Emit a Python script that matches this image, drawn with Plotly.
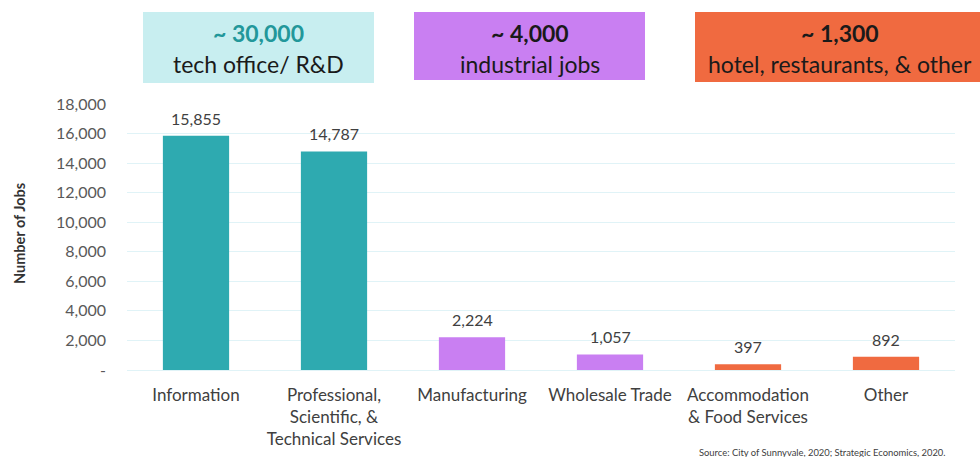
import plotly.graph_objects as go

# Jobs by industry
categories = [
    "Information",
    "Professional,<br>Scientific, &<br>Technical Services",
    "Manufacturing",
    "Wholesale Trade",
    "Accommodation<br>& Food Services",
    "Other",
]
jobs = [15855, 14787, 2224, 1057, 397, 892]
bar_colors = ["#2eaab0", "#2eaab0", "#c97ff2", "#c97ff2", "#f06a40", "#f06a40"]

y_tick_values = [0, 2000, 4000, 6000, 8000, 10000, 12000, 14000, 16000, 18000]
y_tick_labels = ["-", "2,000", "4,000", "6,000", "8,000", "10,000",
                 "12,000", "14,000", "16,000", "18,000"]

# Group summary boxes: headline, caption, fill, headline colour
group_headlines = ["~ 30,000", "~ 4,000", "~ 1,300"]
group_captions = ["tech office/ R&D", "industrial jobs", "hotel, restaurants, & other"]
group_fills = ["#c8eef0", "#c97ff2", "#f06a40"]
group_headline_colors = ["#22979a", "#1a1a1a", "#1a1a1a"]

source_note = "Source: City of Sunnyvale, 2020; Strategic Economics, 2020."

FONT = "Lato, 'Open Sans', sans-serif"
W, H = 980, 457
L, R, T, B = 127, 25, 104, 87
PW, PH = W - L - R, H - T - B


def px_x(px):
    return (px - L) / PW


def px_y(py):
    return (H - B - py) / PH


fig = go.Figure()
fig.add_trace(go.Bar(
    x=categories,
    y=jobs,
    marker=dict(color=bar_colors, line=dict(width=0)),
    hoverinfo="skip",
))

annotations = []
# value labels above each bar
for cat, val in zip(categories, jobs):
    annotations.append(dict(
        x=cat, y=val, xref="x", yref="y",
        text=f"{val:,}", showarrow=False,
        yanchor="bottom", yshift=6,
        font=dict(family=FONT, size=16, color="#404040"),
    ))

# summary boxes across the top (the last one runs off the right edge)
box_extents = [(143, 374, 12, 83), (414, 645, 12, 80), (695, 1000, 12, 82)]
text_centers = [258.5, 529.5, 840]
shapes = []
for (x0, x1, y0, y1), tcx, fill, head, cap, hcol in zip(
        box_extents, text_centers, group_fills, group_headlines,
        group_captions, group_headline_colors):
    shapes.append(dict(
        type="rect", xref="paper", yref="paper",
        x0=px_x(x0), x1=px_x(x1), y0=px_y(y1), y1=px_y(y0),
        fillcolor=fill, line=dict(width=0), layer="above",
    ))
    cx = px_x(tcx)
    annotations.append(dict(
        x=cx, y=px_y(33), xref="paper", yref="paper",
        text=f"<b>{head}</b>", showarrow=False,
        xanchor="center", yanchor="middle",
        font=dict(family=FONT, size=23, color=hcol),
    ))
    annotations.append(dict(
        x=cx, y=px_y(64), xref="paper", yref="paper",
        text=cap, showarrow=False,
        xanchor="center", yanchor="middle",
        font=dict(family=FONT, size=23, color="#1a1a1a"),
    ))

# axis title
annotations.append(dict(
    x=px_x(19), y=px_y(234), xref="paper", yref="paper",
    text="<b>Number of Jobs</b>", textangle=-90, showarrow=False,
    xanchor="center", yanchor="middle",
    font=dict(family=FONT, size=14.5, color="#333333"),
))

# source note
annotations.append(dict(
    x=px_x(947), y=px_y(452), xref="paper", yref="paper",
    text=source_note, showarrow=False,
    xanchor="right", yanchor="middle",
    font=dict(family=FONT, size=9.4, color="#404040"),
))

fig.update_layout(
    width=W, height=H,
    margin=dict(l=L, r=R, t=T, b=B, pad=0),
    paper_bgcolor="white", plot_bgcolor="white",
    showlegend=False,
    bargap=0.52,
    font=dict(family=FONT),
    annotations=annotations,
    shapes=shapes,
    xaxis=dict(
        type="category", automargin=False,
        showgrid=False, showline=False, zeroline=False,
        ticks="", ticklabelstandoff=13,
        tickfont=dict(family=FONT, size=17, color="#404040"),
    ),
    yaxis=dict(
        range=[0, 18000], automargin=False,
        tickvals=y_tick_values, ticktext=y_tick_labels,
        showgrid=True, gridcolor="#e0f3f7", gridwidth=1,
        zeroline=True, zerolinecolor="#e0f3f7", zerolinewidth=1,
        showline=False, ticks="", ticklabelstandoff=20,
        tickfont=dict(family=FONT, size=16, color="#595959"),
    ),
)

fig.write_html("out.html")
